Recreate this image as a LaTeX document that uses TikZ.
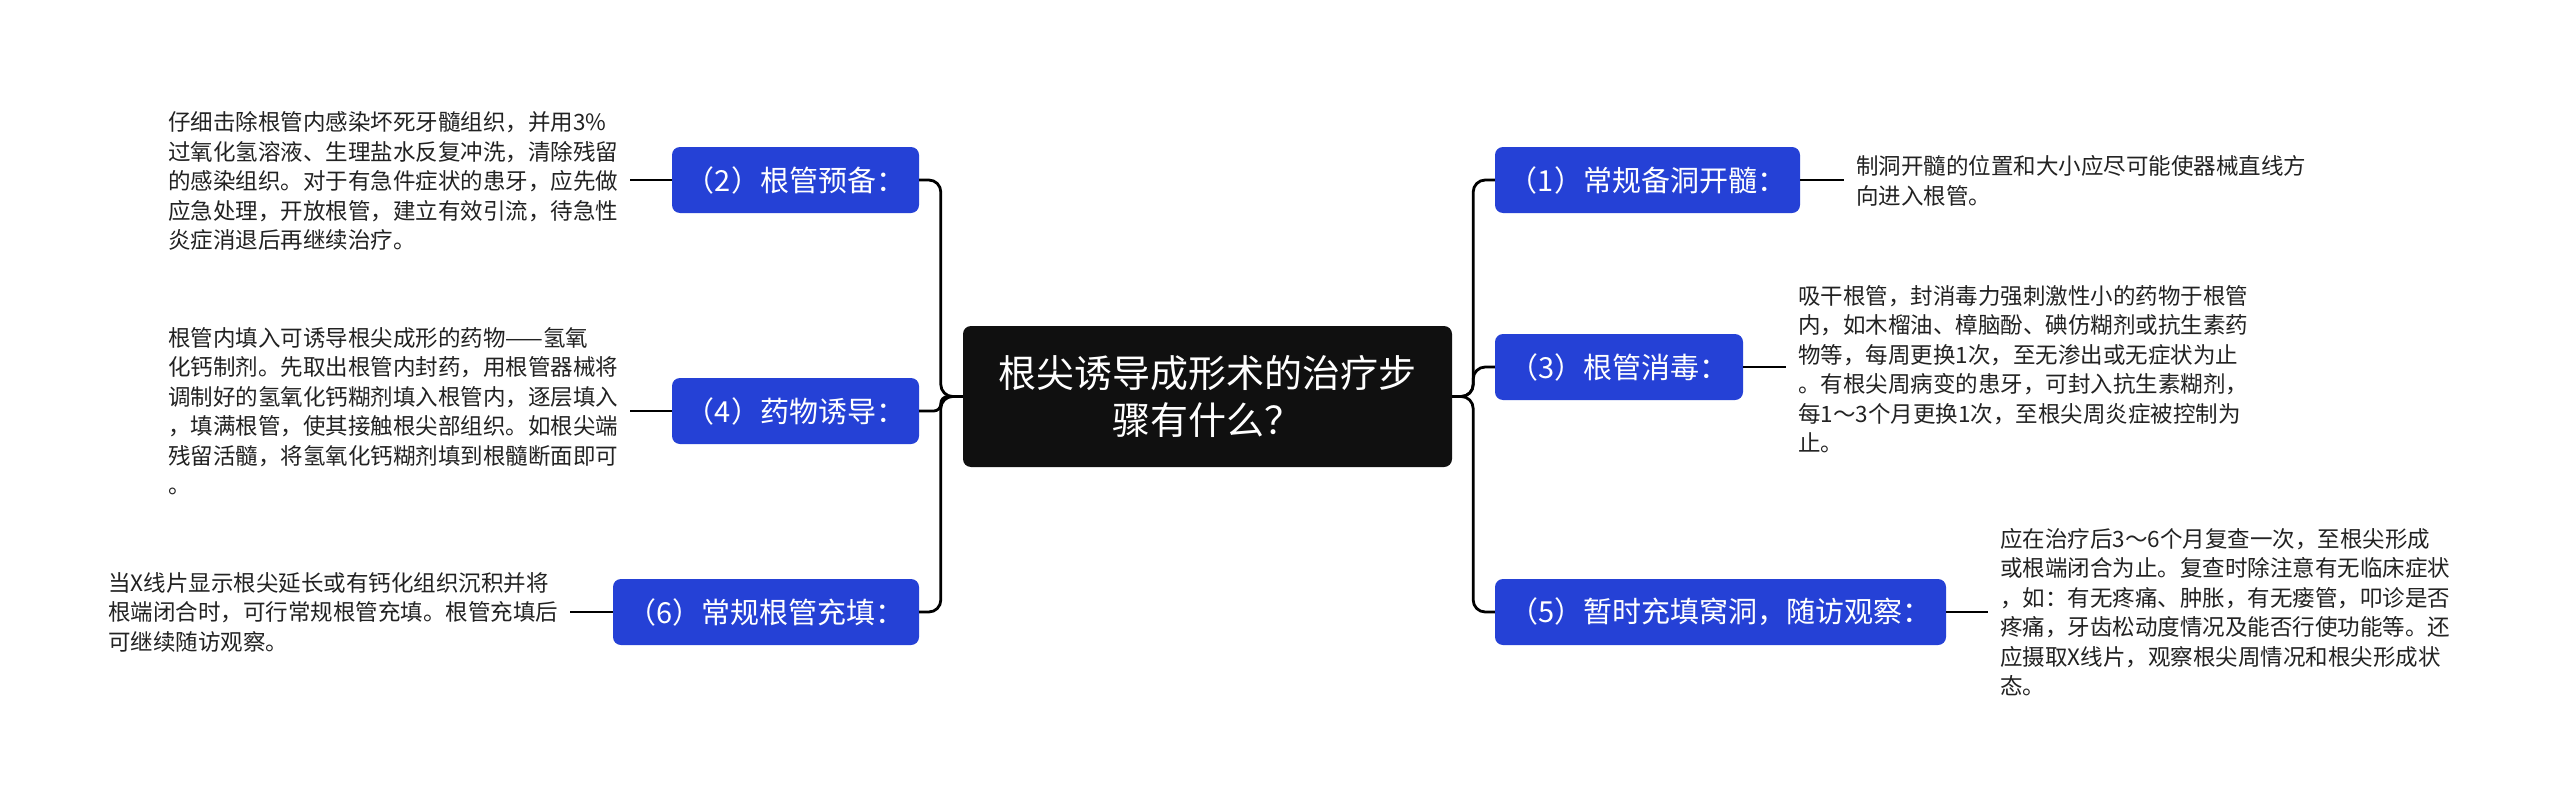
\documentclass[tikz,border=0pt]{standalone}
\usepackage{fontspec}
\setmainfont{Noto Sans CJK SC}
\definecolor{nodeblue}{HTML}{2541D6}
\definecolor{rootblack}{HTML}{101010}
\definecolor{txtgray}{HTML}{222222}
\tikzset{
  rootbox/.style={draw=none, fill=rootblack, rounded corners=8pt, text=white, align=center,
    minimum width=489pt, minimum height=141pt, inner sep=0pt,
    font=\fontsize{38}{47}\selectfont},
  stepbox/.style={draw=none, fill=nodeblue, rounded corners=8pt, text=white,
    minimum height=66pt, inner sep=0pt, font=\fontsize{29}{34}\selectfont},
  detail/.style={align=left, inner xsep=12pt, inner ysep=0pt, text=txtgray,
    font=\fontsize{22.5}{29.5}\selectfont},
  conn/.style={draw=black, line width=2.8pt},
}
\begin{document}
\begin{tikzpicture}[x=1pt,y=1pt]
\useasboundingbox (0,0) rectangle (2560,-808);
\fill[white] (0,0) rectangle (2560,-808);

\node[rootbox] (root) at (1207.5,-396.5) {根尖诱导成形术的治疗步\\骤有什么？};

\node[stepbox, minimum width=305pt] (b1) at (1647.5,-180) {（1）常规备洞开髓：};
\node[stepbox, minimum width=248pt] (b3) at (1619,-367) {（3）根管消毒：};
\node[stepbox, minimum width=451pt] (b5) at (1720.5,-612) {（5）暂时充填窝洞，随访观察：};
\node[stepbox, minimum width=247pt] (b2) at (795.5,-180) {（2）根管预备：};
\node[stepbox, minimum width=247pt] (b4) at (795.5,-411) {（4）药物诱导：};
\node[stepbox, minimum width=306pt] (b6) at (766,-612) {（6）常规根管充填：};

\node[detail, anchor=west] (t1) at (1844,-181) {制洞开髓的位置和大小应尽可能使器械直线方\\向进入根管。};
\node[detail, anchor=west] (t3) at (1786,-369) {吸干根管，封消毒力强刺激性小的药物于根管\\内，如木榴油、樟脑酚、碘仿糊剂或抗生素药\\物等，每周更换1次，至无渗出或无症状为止\\。有根尖周病变的患牙，可封入抗生素糊剂，\\每1～3个月更换1次，至根尖周炎症被控制为\\止。};
\node[detail, anchor=west] (t5) at (1988,-612) {应在治疗后3～6个月复查一次，至根尖形成\\或根端闭合为止。复查时除注意有无临床症状\\，如：有无疼痛、肿胀，有无瘘管，叩诊是否\\疼痛，牙齿松动度情况及能否行使功能等。还\\应摄取X线片，观察根尖周情况和根尖形成状\\态。};
\node[detail, anchor=west] (t2) at (156,-181) {仔细击除根管内感染坏死牙髓组织，并用3\%\\过氧化氢溶液、生理盐水反复冲洗，清除残留\\的感染组织。对于有急件症状的患牙，应先做\\应急处理，开放根管，建立有效引流，待急性\\炎症消退后再继续治疗。};
\node[detail, anchor=west] (t4) at (156,-411) {根管内填入可诱导根尖成形的药物——氢氧\\化钙制剂。先取出根管内封药，用根管器械将\\调制好的氢氧化钙糊剂填入根管内，逐层填入\\，填满根管，使其接触根尖部组织。如根尖端\\残留活髓，将氢氧化钙糊剂填到根髓断面即可\\。};
\node[detail, anchor=west] (t6) at (96,-612) {当X线片显示根尖延长或有钙化组织沉积并将\\根端闭合时，可行常规根管充填。根管充填后\\可继续随访观察。};

% root to steps
\draw[conn, rounded corners=12pt] (root.east) -- ++(21,0) |- (b1.west);
\draw[conn, rounded corners=12pt] (root.east) -- ++(21,0) |- (b3.west);
\draw[conn, rounded corners=12pt] (root.east) -- ++(21,0) |- (b5.west);
\draw[conn, rounded corners=12pt] (root.west) -- ++(-22,0) |- (b2.east);
\draw[conn, rounded corners=7pt] (root.west) -- ++(-22,0) |- (b4.east);
\draw[conn, rounded corners=12pt] (root.west) -- ++(-22,0) |- (b6.east);

% steps to details
\draw[conn] (b1.east) -- (b1.east -| t1.west);
\draw[conn] (b3.east) -- (b3.east -| t3.west);
\draw[conn] (b5.east) -- (b5.east -| t5.west);
\draw[conn] (b2.west) -- (b2.west -| t2.east);
\draw[conn] (b4.west) -- (b4.west -| t4.east);
\draw[conn] (b6.west) -- (b6.west -| t6.east);
\end{tikzpicture}
\end{document}
